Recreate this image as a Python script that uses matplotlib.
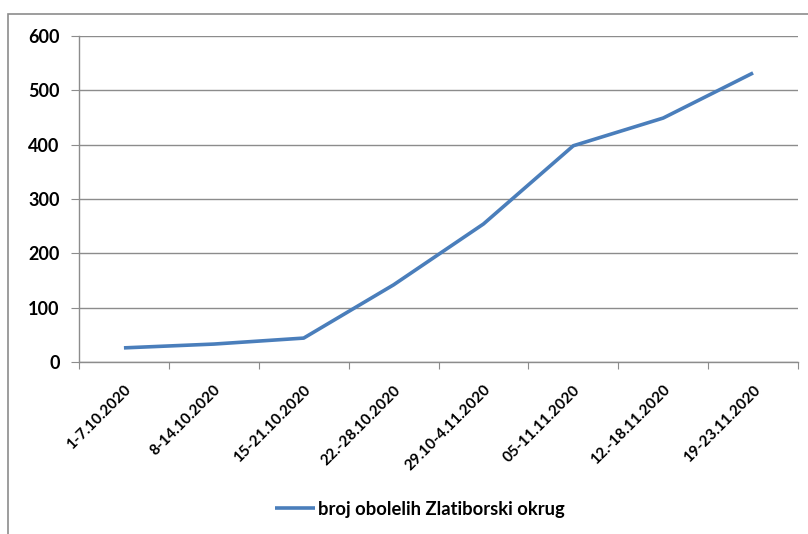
import matplotlib
matplotlib.use("Agg")
import matplotlib.pyplot as plt
from matplotlib.patches import Rectangle

categories = ["1-7.10.2020", "8-14.10.2020", "15-21.10.2020", "22.-28.10.2020",
              "29.10-4.11.2020", "05-11.11.2020", "12.-18.11.2020", "19-23.11.2020"]
values = [26, 33, 44, 142, 254, 398, 449, 532]
series_name = "broj obolelih Zlatiborski okrug"
yticks = [0, 100, 200, 300, 400, 500, 600]

plt.rcParams['font.family'] = ['Lato', 'DejaVu Sans']
W, H = 808, 534
fig = plt.figure(figsize=(W/100, H/100), dpi=100)
fig.patch.set_facecolor('white')

# outer chart border (left and top visible)
fig.add_artist(Rectangle((8/W, -0.01), 1.02, (H-14)/H + 0.01, transform=fig.transFigure,
                         fill=False, edgecolor='#8c8c8c', linewidth=1.2))

ax = fig.add_axes([79/W, 1-362/H, (798-79)/W, (362-36)/H])
n = len(categories)
xs = [i + 0.5 for i in range(n)]
ax.plot(xs, values, color='#4A7EBB', linewidth=2.6, solid_capstyle='butt',
        label=series_name)
ax.set_xlim(0, n)
ax.set_ylim(0, 600)
ax.set_yticks(yticks)
ax.set_yticklabels([str(v) for v in yticks], fontsize=13, fontweight='bold')
ax.yaxis.grid(True, color='#8c8c8c', linewidth=1.0)
ax.set_axisbelow(True)
ax.set_xticks(range(n + 1))
ax.set_xticklabels([])
ax.set_xticks(xs, minor=True)
ax.set_xticklabels(categories, minor=True, rotation=45, ha='right',
                   rotation_mode='anchor', fontsize=11, fontweight='bold')
ax.tick_params(axis='x', which='minor', length=0, pad=15)
ax.tick_params(axis='x', which='major', length=5, color='#8c8c8c', direction='out')
ax.tick_params(axis='y', length=6, color='#8c8c8c', direction='out', pad=8)
for s in ['top', 'right']:
    ax.spines[s].set_visible(False)
for s in ['left', 'bottom']:
    ax.spines[s].set_color('#8c8c8c')
    ax.spines[s].set_linewidth(1.0)

leg = fig.legend(loc='center', bbox_to_anchor=(420/W, 1-509/H), frameon=False,
                 prop={'size': 13.2, 'weight': 'bold'}, handlelength=2.2, handletextpad=0.15)

fig.savefig('out.png', dpi=100, facecolor='white')
